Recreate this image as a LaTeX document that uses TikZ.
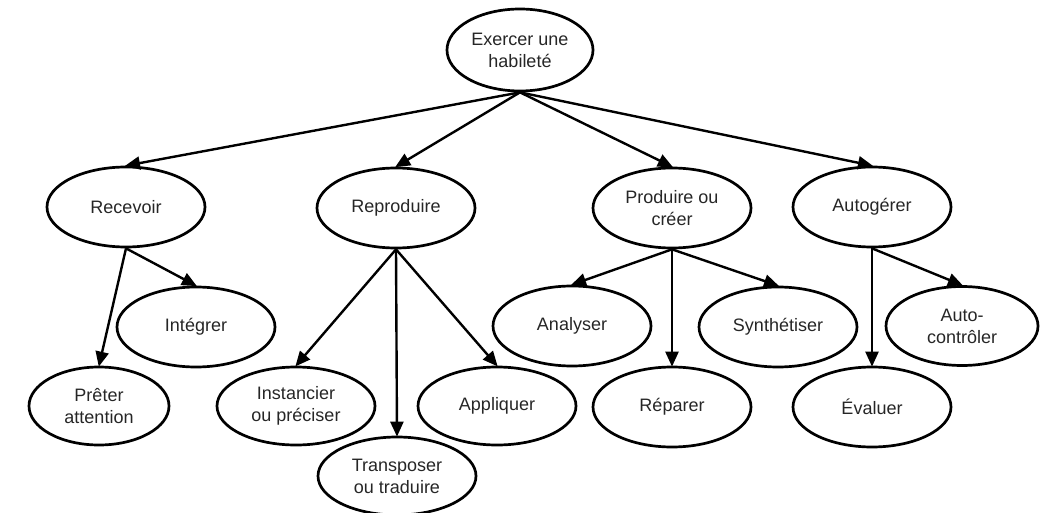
\documentclass[tikz,border=0pt]{standalone}
\usepackage{fontspec}
\setmainfont{Liberation Sans}
\usetikzlibrary{shapes.geometric,arrows.meta}
\begin{document}
\begin{tikzpicture}[x=1pt,y=-1pt,
  skill/.style={ellipse,draw,line width=2.7pt,inner sep=0pt,
    minimum width=158pt,minimum height=80pt,align=center,
    font=\fontsize{18}{22}\selectfont,text=black!85},
  link/.style={line width=2.4pt,-{Triangle[length=15pt,width=13pt]},shorten >=-1pt}]
\useasboundingbox (0,0) rectangle (1040,513);
% top goal
\node[skill,minimum width=146pt,minimum height=82pt] (root) at (520,50) {Exercer une\\habileté};
% first level
\node[skill] (rec)  at (126,207) {Recevoir};
\node[skill] (repr) at (396,208) {Reproduire};
\node[skill] (prod) at (672,208) {Produire ou\\créer};
\node[skill] (auto) at (872,207) {Autogérer};
% second level
\node[skill] (integ) at (196,327) {Intégrer};
\node[skill,minimum width=140pt,minimum height=78pt] (pret) at (99,406) {Prêter\\attention};
\node[skill,minimum height=78pt] (inst) at (296,406) {Instancier\\ou préciser};
\node[skill,minimum height=78pt] (trans) at (397,476) {Transposer\\ou traduire};
\node[skill,minimum height=78pt] (appl) at (497,406) {Appliquer};
\node[skill] (anal) at (572,326) {Analyser};
\node[skill] (repa) at (672,407) {Réparer};
\node[skill] (synt) at (778,327) {Synthétiser};
\node[skill] (eval) at (872,407) {Évaluer};
\node[skill,minimum width=152pt,minimum height=79pt] (ctrl) at (962,326) {Auto-\\contrôler};
% connectors
\draw[link] (root.south) -- (rec.north);
\draw[link] (root.south) -- (repr.north);
\draw[link] (root.south) -- (prod.north);
\draw[link] (root.south) -- (auto.north);
\draw[link] (rec.south) -- (pret.north);
\draw[link] (rec.south) -- (integ.north);
\draw[link] (repr.south) -- (inst.north);
\draw[link] (repr.south) -- (trans.north);
\draw[link] (repr.south) -- (appl.north);
\draw[link] (prod.south) -- (anal.north);
\draw[link] (prod.south) -- (repa.north);
\draw[link] (prod.south) -- (synt.north);
\draw[link] (auto.south) -- (eval.north);
\draw[link] (auto.south) -- (ctrl.north);
\end{tikzpicture}
\end{document}
